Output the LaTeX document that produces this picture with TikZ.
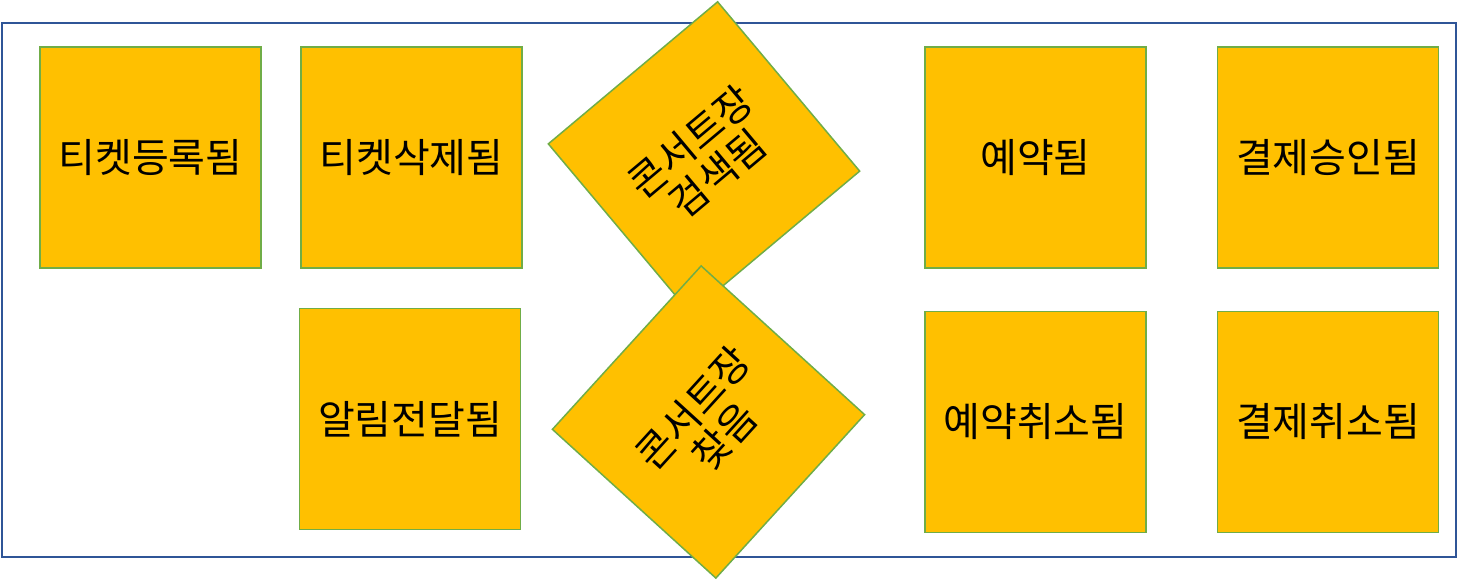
\documentclass[tikz,border=0pt]{standalone}
\usepackage{fontspec}
\newfontfamily\kr{Noto Sans CJK KR}
\definecolor{boxfill}{HTML}{FFC000}
\definecolor{boxline}{HTML}{70AD47}
\definecolor{frameline}{HTML}{2F5597}
\tikzset{
  frame/.style={draw=frameline, line width=2pt, inner sep=0pt, fill=white},
  sq/.style={draw=boxline, fill=boxfill, line width=1.5pt, inner sep=0pt,
    minimum width=221pt, minimum height=221pt, align=center,
    font=\kr\fontsize{40}{42}\selectfont},
}
\begin{document}
\begin{tikzpicture}[x=1pt,y=-1pt]
\useasboundingbox (0,0) rectangle (1457,580);
\node[frame, minimum width=1454pt, minimum height=533.5pt] (frame) at (728.5,289.75) {};
\node[sq] (reg) at (150.5,157.5) {티켓등록됨};
\node[sq] (del) at (411.5,157.5) {티켓삭제됨};
\node[sq] (rsv) at (1035.5,157.5) {예약됨};
\node[sq] (pay) at (1328,157.5) {결제승인됨};
\node[sq] (ntf) at (410,419) {알림전달됨};
\node[sq] (rcl) at (1035.5,422) {예약취소됨};
\node[sq] (pcl) at (1328,422) {결제취소됨};
\node[sq, rotate=40] (srch) at (704,157.5) {콘서트장\\검색됨};
\node[sq, rotate=47.7] (find) at (708.5,422) {콘서트장\\찾음};
\end{tikzpicture}
\end{document}
